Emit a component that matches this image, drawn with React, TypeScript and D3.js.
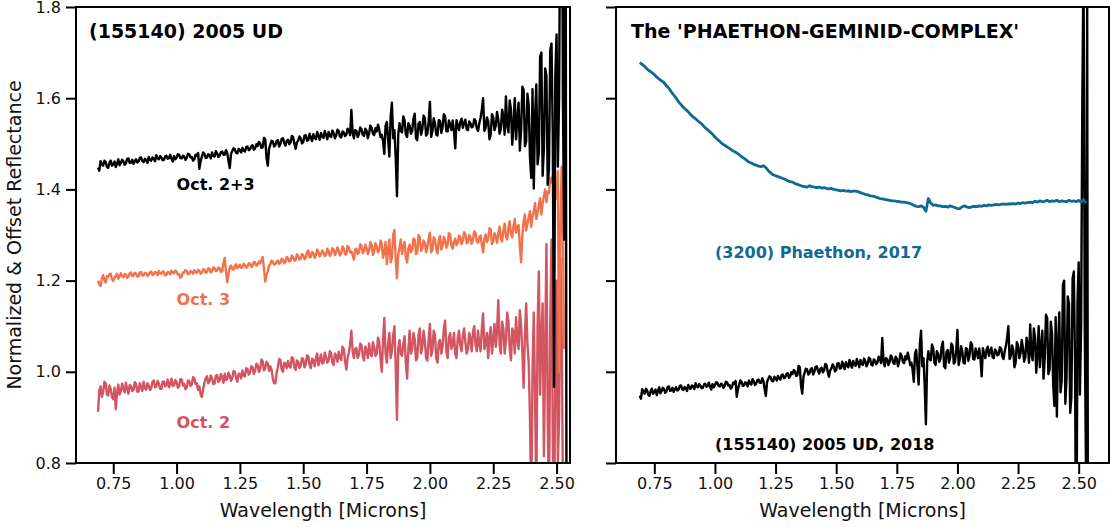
import { useEffect, useRef } from "react"
import * as d3 from "d3"

// wavelength grids of the spectra (microns)
const WAVE_START = 0.69
const UD_STEP = 0.005
const PHAETHON_STEP = 0.01

// (155140) 2005 UD, Oct. 2+3 combined
const OCT_23 = [
  1.448, 1.441, 1.462, 1.455, 1.452, 1.463, 1.460, 1.450, 1.447, 1.458, 1.463, 1.452, 1.455, 1.461, 1.449, 1.457, 1.466, 1.453, 1.458, 1.465,
  1.462, 1.454, 1.457, 1.467, 1.468, 1.458, 1.459, 1.465, 1.456, 1.462, 1.466, 1.459, 1.461, 1.469, 1.470, 1.462, 1.460, 1.467, 1.464, 1.458,
  1.471, 1.465, 1.463, 1.470, 1.468, 1.462, 1.475, 1.468, 1.466, 1.473, 1.470, 1.464, 1.465, 1.472, 1.474, 1.467, 1.469, 1.476, 1.467, 1.461,
  1.473, 1.466, 1.470, 1.477, 1.476, 1.469, 1.468, 1.474, 1.472, 1.465, 1.469, 1.478, 1.477, 1.470, 1.471, 1.463, 1.466, 1.476, 1.474, 1.480,
  1.445, 1.462, 1.472, 1.481, 1.478, 1.469, 1.470, 1.477, 1.475, 1.468, 1.481, 1.474, 1.472, 1.484, 1.479, 1.471, 1.474, 1.482, 1.483, 1.476,
  1.476, 1.486, 1.480, 1.462, 1.447, 1.478, 1.484, 1.490, 1.488, 1.480, 1.479, 1.489, 1.486, 1.481, 1.491, 1.485, 1.483, 1.493, 1.494, 1.486,
  1.488, 1.495, 1.497, 1.487, 1.490, 1.499, 1.495, 1.504, 1.501, 1.491, 1.492, 1.513, 1.510, 1.470, 1.452, 1.489, 1.498, 1.507, 1.505, 1.494,
  1.497, 1.506, 1.508, 1.494, 1.500, 1.511, 1.512, 1.502, 1.496, 1.507, 1.509, 1.499, 1.503, 1.517, 1.515, 1.500, 1.489, 1.503, 1.507, 1.516,
  1.512, 1.501, 1.504, 1.518, 1.519, 1.507, 1.508, 1.522, 1.514, 1.506, 1.521, 1.513, 1.510, 1.526, 1.517, 1.509, 1.524, 1.516, 1.513, 1.528,
  1.520, 1.510, 1.526, 1.518, 1.515, 1.529, 1.523, 1.512, 1.518, 1.531, 1.528, 1.516, 1.514, 1.527, 1.525, 1.517, 1.520, 1.533, 1.530, 1.519,
  1.574, 1.525, 1.512, 1.530, 1.528, 1.515, 1.521, 1.536, 1.532, 1.520, 1.517, 1.533, 1.529, 1.512, 1.523, 1.540, 1.535, 1.522, 1.519, 1.534,
  1.527, 1.542, 1.531, 1.515, 1.520, 1.505, 1.478, 1.540, 1.548, 1.510, 1.472, 1.560, 1.590, 1.512, 1.530, 1.470, 1.385, 1.520, 1.545, 1.528,
  1.525, 1.560, 1.552, 1.520, 1.515, 1.545, 1.540, 1.522, 1.528, 1.555, 1.566, 1.512, 1.508, 1.544, 1.548, 1.520, 1.532, 1.562, 1.557, 1.518,
  1.522, 1.548, 1.592, 1.515, 1.528, 1.556, 1.545, 1.520, 1.518, 1.552, 1.550, 1.524, 1.536, 1.565, 1.560, 1.528, 1.527, 1.551, 1.542, 1.530,
  1.551, 1.528, 1.490, 1.552, 1.540, 1.530, 1.548, 1.555, 1.535, 1.546, 1.553, 1.532, 1.530, 1.549, 1.545, 1.536, 1.538, 1.554, 1.551, 1.534,
  1.528, 1.545, 1.557, 1.575, 1.600, 1.528, 1.535, 1.558, 1.549, 1.510, 1.520, 1.565, 1.558, 1.530, 1.540, 1.570, 1.553, 1.522, 1.532, 1.575,
  1.561, 1.520, 1.604, 1.540, 1.525, 1.595, 1.575, 1.498, 1.540, 1.600, 1.510, 1.555, 1.590, 1.485, 1.530, 1.625, 1.618, 1.495, 1.505, 1.610,
  1.585, 1.470, 1.425, 1.620, 1.402, 1.560, 1.630, 1.455, 1.480, 1.690, 1.700, 1.430, 1.490, 1.665, 1.650, 1.410, 1.445, 1.705, 1.720, 1.520,
  0.967, 1.650, 1.740, 1.450, 1.600, 2.100, 2.400, 1.600, 1.290, 2.300, 0.400,
]

// Oct. 3
const OCT_3 = [
  1.200, 1.192, 1.188, 1.205, 1.212, 1.201, 1.196, 1.210, 1.208, 1.214, 1.215, 1.203, 1.199, 1.206, 1.210, 1.215, 1.204, 1.209, 1.216, 1.210,
  1.207, 1.214, 1.213, 1.206, 1.209, 1.216, 1.218, 1.210, 1.211, 1.217, 1.215, 1.209, 1.210, 1.218, 1.219, 1.211, 1.212, 1.217, 1.216, 1.210,
  1.213, 1.218, 1.220, 1.212, 1.214, 1.219, 1.217, 1.212, 1.221, 1.216, 1.215, 1.220, 1.219, 1.211, 1.213, 1.219, 1.218, 1.214, 1.222, 1.217,
  1.216, 1.222, 1.220, 1.213, 1.214, 1.206, 1.209, 1.218, 1.217, 1.223, 1.221, 1.214, 1.215, 1.221, 1.219, 1.215, 1.223, 1.218, 1.217, 1.224,
  1.221, 1.215, 1.218, 1.225, 1.224, 1.217, 1.219, 1.227, 1.226, 1.218, 1.220, 1.229, 1.228, 1.221, 1.222, 1.229, 1.227, 1.219, 1.220, 1.238,
  1.250, 1.220, 1.196, 1.215, 1.229, 1.233, 1.226, 1.224, 1.232, 1.236, 1.227, 1.230, 1.235, 1.228, 1.229, 1.237, 1.234, 1.228, 1.231, 1.238,
  1.237, 1.230, 1.232, 1.241, 1.240, 1.233, 1.235, 1.242, 1.238, 1.245, 1.252, 1.225, 1.198, 1.212, 1.220, 1.233, 1.236, 1.244, 1.241, 1.235,
  1.236, 1.241, 1.244, 1.237, 1.239, 1.248, 1.246, 1.238, 1.241, 1.252, 1.249, 1.242, 1.243, 1.255, 1.251, 1.244, 1.245, 1.258, 1.254, 1.246,
  1.248, 1.258, 1.256, 1.247, 1.250, 1.262, 1.266, 1.251, 1.252, 1.263, 1.260, 1.250, 1.255, 1.268, 1.263, 1.253, 1.258, 1.266, 1.262, 1.254,
  1.256, 1.270, 1.265, 1.254, 1.259, 1.271, 1.268, 1.256, 1.261, 1.273, 1.266, 1.255, 1.260, 1.275, 1.270, 1.258, 1.257, 1.276, 1.272, 1.262,
  1.264, 1.255, 1.246, 1.268, 1.270, 1.258, 1.262, 1.280, 1.276, 1.260, 1.265, 1.279, 1.272, 1.258, 1.266, 1.284, 1.278, 1.256, 1.263, 1.282,
  1.275, 1.262, 1.268, 1.288, 1.281, 1.250, 1.262, 1.285, 1.236, 1.270, 1.290, 1.240, 1.250, 1.300, 1.311, 1.245, 1.205, 1.258, 1.272, 1.290,
  1.258, 1.275, 1.285, 1.250, 1.240, 1.270, 1.279, 1.262, 1.268, 1.292, 1.290, 1.258, 1.262, 1.300, 1.295, 1.265, 1.270, 1.288, 1.283, 1.262,
  1.275, 1.292, 1.305, 1.262, 1.268, 1.295, 1.290, 1.270, 1.260, 1.288, 1.298, 1.268, 1.276, 1.296, 1.288, 1.272, 1.280, 1.304, 1.301, 1.276,
  1.270, 1.285, 1.292, 1.278, 1.283, 1.299, 1.296, 1.280, 1.287, 1.306, 1.302, 1.282, 1.284, 1.300, 1.295, 1.281, 1.289, 1.308, 1.305, 1.286,
  1.283, 1.295, 1.299, 1.278, 1.262, 1.292, 1.301, 1.285, 1.290, 1.315, 1.312, 1.280, 1.286, 1.304, 1.296, 1.283, 1.305, 1.318, 1.292, 1.286,
  1.310, 1.325, 1.297, 1.290, 1.315, 1.330, 1.302, 1.295, 1.320, 1.335, 1.305, 1.318, 1.322, 1.275, 1.240, 1.300, 1.330, 1.345, 1.310, 1.325,
  1.338, 1.352, 1.318, 1.340, 1.352, 1.370, 1.335, 1.348, 1.365, 1.380, 1.345, 1.370, 1.385, 1.400, 1.372, 1.395, 1.392, 1.425, 1.415, 1.430,
  1.445, 1.410, 1.380, 1.440, 1.000, 1.300, 1.450, 1.300, 1.050,
]

// Oct. 2
const OCT_2 = [
  0.912, 0.960, 0.968, 0.945, 0.955, 0.978, 0.975, 0.950, 0.948, 0.970, 0.962, 0.945, 0.940, 0.965, 0.918, 0.955, 0.972, 0.950, 0.958, 0.974,
  0.963, 0.955, 0.976, 0.962, 0.952, 0.971, 0.969, 0.958, 0.960, 0.977, 0.973, 0.956, 0.957, 0.975, 0.966, 0.958, 0.978, 0.964, 0.961, 0.975,
  0.970, 0.960, 0.964, 0.978, 0.981, 0.966, 0.967, 0.980, 0.975, 0.963, 0.962, 0.978, 0.979, 0.968, 0.971, 0.983, 0.966, 0.972, 0.985, 0.969,
  0.970, 0.982, 0.978, 0.965, 0.968, 0.984, 0.983, 0.970, 0.974, 0.962, 0.965, 0.981, 0.980, 0.969, 0.972, 0.988, 0.986, 0.973, 0.975, 0.960,
  0.968, 0.950, 0.945, 0.962, 0.976, 0.985, 0.990, 0.975, 0.979, 0.992, 0.986, 0.973, 0.974, 0.991, 0.993, 0.978, 0.981, 0.995, 0.988, 0.976,
  0.996, 0.982, 0.984, 0.998, 0.992, 0.980, 0.987, 1.002, 1.000, 0.985, 0.978, 0.996, 0.995, 0.986, 1.003, 0.992, 0.990, 1.008, 1.006, 0.994,
  0.998, 1.012, 1.010, 0.995, 1.002, 1.018, 1.015, 1.000, 1.005, 1.027, 1.023, 1.003, 1.008, 1.022, 1.018, 1.002, 1.012, 1.004, 0.985, 0.975,
  0.975, 0.998, 1.010, 1.028, 1.026, 1.005, 1.000, 1.020, 1.018, 1.008, 1.024, 1.012, 1.009, 1.032, 1.030, 1.010, 1.004, 1.025, 1.022, 1.008,
  1.013, 1.030, 1.028, 1.010, 1.016, 1.036, 1.034, 1.015, 1.008, 1.029, 1.025, 1.012, 1.031, 1.040, 1.014, 1.026, 1.038, 1.018, 1.020, 1.042,
  1.033, 1.020, 1.024, 1.045, 1.041, 1.020, 1.015, 1.040, 1.036, 1.022, 1.044, 1.030, 1.026, 1.055, 1.050, 1.025, 1.005, 1.030, 1.042, 1.060,
  1.090, 1.045, 1.030, 1.050, 1.052, 1.030, 1.038, 1.062, 1.058, 1.035, 1.025, 1.055, 1.047, 1.030, 1.062, 1.040, 1.034, 1.065, 1.055, 1.035,
  1.040, 1.075, 1.065, 1.030, 1.000, 1.070, 1.118, 1.040, 1.020, 1.060, 1.085, 1.030, 1.045, 1.080, 1.100, 1.010, 0.895, 1.050, 1.070, 1.040,
  1.035, 1.060, 1.078, 1.020, 0.985, 1.050, 1.090, 1.040, 1.050, 1.085, 1.072, 1.025, 1.030, 1.080, 1.095, 1.040, 1.055, 1.090, 1.068, 1.030,
  1.025, 1.070, 1.105, 1.035, 1.048, 1.090, 1.080, 1.030, 1.020, 1.065, 1.070, 1.040, 1.055, 1.095, 1.112, 1.045, 1.030, 1.075, 1.085, 1.050,
  1.060, 1.085, 1.040, 1.030, 1.075, 1.090, 1.058, 1.045, 1.080, 1.095, 1.065, 1.040, 1.050, 1.085, 1.072, 1.045, 1.088, 1.100, 1.060, 1.045,
  1.090, 1.060, 1.045, 1.095, 1.128, 1.050, 1.062, 1.085, 1.030, 1.075, 1.098, 1.040, 1.070, 1.105, 1.055, 1.090, 1.157, 1.060, 1.040, 1.110,
  1.095, 1.040, 1.068, 1.130, 1.110, 1.050, 1.025, 1.095, 1.085, 1.040, 1.120, 1.070, 1.050, 1.135, 1.100, 1.040, 0.965, 1.080, 1.150, 1.060,
  1.020, 0.900, 0.700, 1.000, 1.130, 0.950, 0.720, 1.100, 1.220, 0.950, 1.080, 1.150, 0.815, 1.050, 1.280, 0.900, 0.700, 1.100, 1.290, 0.850,
  0.650, 1.000, 1.200, 0.800, 0.900, 1.250, 1.100, 0.750, 0.700,
]

// (3200) Phaethon, 2017
const PHAETHON = [
  1.678, 1.674, 1.670, 1.664, 1.660, 1.656, 1.652, 1.646, 1.642, 1.638,
  1.634, 1.627, 1.622, 1.614, 1.607, 1.600, 1.592, 1.586, 1.580, 1.575,
  1.570, 1.564, 1.559, 1.555, 1.550, 1.546, 1.541, 1.535, 1.531, 1.526,
  1.521, 1.515, 1.510, 1.505, 1.500, 1.497, 1.493, 1.490, 1.486, 1.483,
  1.480, 1.476, 1.472, 1.468, 1.464, 1.460, 1.458, 1.455, 1.453, 1.451,
  1.450, 1.452, 1.448, 1.441, 1.436, 1.432, 1.430, 1.428, 1.426, 1.424,
  1.422, 1.419, 1.417, 1.416, 1.413, 1.411, 1.409, 1.407, 1.406, 1.405,
  1.408, 1.406, 1.405, 1.404, 1.405, 1.403, 1.404, 1.402, 1.401, 1.402,
  1.400, 1.399, 1.398, 1.397, 1.398, 1.396, 1.397, 1.395, 1.396, 1.396,
  1.395, 1.393, 1.391, 1.389, 1.388, 1.386, 1.385, 1.384, 1.382, 1.380,
  1.379, 1.378, 1.377, 1.376, 1.375, 1.375, 1.374, 1.373, 1.372, 1.372,
  1.371, 1.370, 1.368, 1.365, 1.363, 1.362, 1.364, 1.361, 1.352, 1.380,
  1.370, 1.365, 1.366, 1.364, 1.364, 1.362, 1.363, 1.361, 1.364, 1.362,
  1.360, 1.358, 1.358, 1.362, 1.364, 1.361, 1.360, 1.362, 1.363, 1.362,
  1.364, 1.363, 1.365, 1.364, 1.366, 1.365, 1.366, 1.367, 1.366, 1.367,
  1.368, 1.367, 1.368, 1.368, 1.369, 1.368, 1.370, 1.369, 1.371, 1.370,
  1.371, 1.372, 1.371, 1.374, 1.372, 1.375, 1.373, 1.374, 1.376, 1.373,
  1.375, 1.374, 1.376, 1.373, 1.375, 1.374, 1.373, 1.376, 1.374, 1.375,
  1.373, 1.376, 1.372, 1.378, 1.370,
]

// offset used for the 2005 UD spectrum in the right panel
const UD_OFFSET = -0.5

const X_TICKS = [0.75, 1.0, 1.25, 1.5, 1.75, 2.0, 2.25, 2.5]
const Y_TICKS = [0.8, 1.0, 1.2, 1.4, 1.6, 1.8]

const BLACK = "#000000"
const ORANGE = "#f2734b"
const PINK = "#d25561"
const BLUE = "#0e6a92"
const FONT = "DejaVu Sans"

const W = 1110
const H = 527

export default function App() {
  const svgRef = useRef<SVGSVGElement>(null)

  useEffect(() => {
    if (!svgRef.current) return
    const svg = d3.select(svgRef.current)
    svg.selectAll("*").remove()

    const top = 7
    const bottom = 463
    const y = d3.scaleLinear().domain([0.8, 1.8]).range([bottom, top])

    const panels = [
      { id: "left", x0: 76, x1: 570, domain: [0.603, 2.553], showY: true },
      { id: "right", x0: 616, x1: 1109, domain: [0.592, 2.625], showY: false },
    ]

    panels.forEach((p) => {
      const x = d3.scaleLinear().domain(p.domain).range([p.x0, p.x1])
      const g = svg.append("g")

      // clip to the axes box
      const clipId = `clip-${p.id}`
      svg
        .append("defs")
        .append("clipPath")
        .attr("id", clipId)
        .append("rect")
        .attr("x", p.x0)
        .attr("y", top)
        .attr("width", p.x1 - p.x0)
        .attr("height", bottom - top)

      const line = (vals: number[], step: number, offset = 0) =>
        d3
          .line<number>()
          .x((_, i) => x(WAVE_START + i * step))
          .y((d) => y(d + offset))(vals)

      const plot = g.append("g").attr("clip-path", `url(#${clipId})`)
      const series =
        p.id === "left"
          ? [
              { v: OCT_2, s: UD_STEP, c: PINK, o: 0, w: 2.4 },
              { v: OCT_3, s: UD_STEP, c: ORANGE, o: 0, w: 2.4 },
              { v: OCT_23, s: UD_STEP, c: BLACK, o: 0, w: 2.4 },
            ]
          : [
              { v: OCT_23, s: UD_STEP, c: BLACK, o: UD_OFFSET, w: 2.4 },
              { v: PHAETHON, s: PHAETHON_STEP, c: BLUE, o: 0, w: 2.8 },
            ]
      series.forEach((s) => {
        plot
          .append("path")
          .attr("d", line(s.v, s.s, s.o))
          .attr("fill", "none")
          .attr("stroke", s.c)
          .attr("stroke-width", s.w)
          .attr("stroke-linejoin", "round")
      })

      // x axis
      const xAxis = g
        .append("g")
        .attr("transform", `translate(0,${bottom})`)
        .call(
          d3
            .axisBottom(x)
            .tickValues(X_TICKS)
            .tickFormat(d3.format(".2f") as any)
            .tickSize(11)
            .tickPadding(4)
        )
      xAxis.select(".domain").remove()
      xAxis.selectAll("line").attr("stroke", BLACK).attr("stroke-width", 2)
      xAxis
        .selectAll("text")
        .attr("font-family", FONT)
        .attr("font-size", 16)
        .attr("fill", "#111")

      // y axis
      const yAxis = g
        .append("g")
        .attr("transform", `translate(${p.x0},0)`)
        .call(
          d3
            .axisLeft(y)
            .tickValues(Y_TICKS)
            .tickFormat(p.showY ? (d3.format(".1f") as any) : () => "")
            .tickSize(10)
            .tickPadding(5)
        )
      yAxis.select(".domain").remove()
      yAxis.selectAll("line").attr("stroke", BLACK).attr("stroke-width", 2)
      yAxis
        .selectAll("text")
        .attr("font-family", FONT)
        .attr("font-size", 16)
        .attr("fill", "#111")

      // frame
      g.append("rect")
        .attr("x", p.x0)
        .attr("y", top)
        .attr("width", p.x1 - p.x0)
        .attr("height", bottom - top)
        .attr("fill", "none")
        .attr("stroke", BLACK)
        .attr("stroke-width", 2)

      // x label
      g.append("text")
        .attr("x", (p.x0 + p.x1) / 2)
        .attr("y", 517)
        .attr("text-anchor", "middle")
        .attr("font-family", FONT)
        .attr("font-size", 19)
        .attr("fill", "#111")
        .text("Wavelength [Microns]")

      const label = (tx: number, ty: number, text: string, color: string, size: number) =>
        g
          .append("text")
          .attr("x", tx)
          .attr("y", ty)
          .attr("font-family", FONT)
          .attr("font-weight", "bold")
          .attr("font-size", size)
          .attr("fill", color)
          .text(text)

      if (p.id === "left") {
        label(89, 38, "(155140) 2005 UD", BLACK, 19)
        label(x(1.0), 190, "Oct. 2+3", BLACK, 16)
        label(x(1.0), 305, "Oct. 3", ORANGE, 16)
        label(x(1.0), 428, "Oct. 2", PINK, 16)
      } else {
        label(631, 38, "The 'PHAETHON-GEMINID-COMPLEX'", BLACK, 19)
        label(x(1.0), 258, "(3200) Phaethon, 2017", BLUE, 16)
        label(x(1.0), 450, "(155140) 2005 UD, 2018", BLACK, 16)
      }
    })

    // y label
    svg
      .append("text")
      .attr("transform", `translate(21,${(top + bottom) / 2}) rotate(-90)`)
      .attr("text-anchor", "middle")
      .attr("font-family", FONT)
      .attr("font-size", 19)
      .attr("fill", "#111")
      .text("Normalized & Offset Reflectance")

    return () => {
      svg.selectAll("*").remove()
    }
  }, [])

  return (
    <svg
      ref={svgRef}
      width={W}
      height={H}
      style={{ position: "absolute", left: 0, top: 0, background: "#fff" }}
    />
  )
}
